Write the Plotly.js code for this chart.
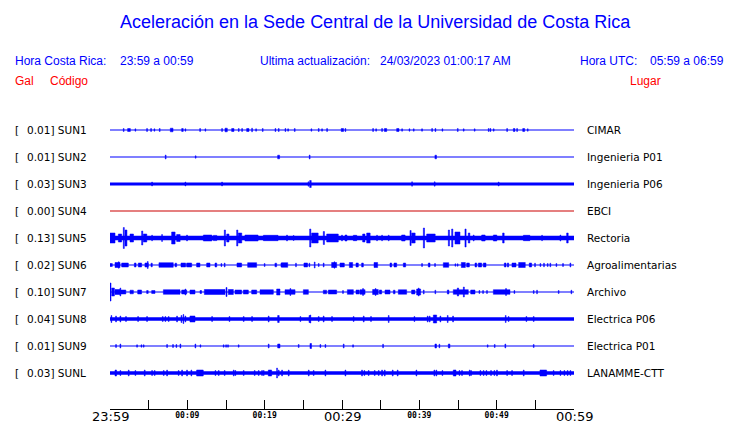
<!DOCTYPE html>
<html>
<head>
<meta charset="utf-8">
<script src="https://cdn.plot.ly/plotly-3.0.1.min.js"></script>
<style>html,body{margin:0;padding:0;background:#fff}#chart{width:740px;height:423px}</style>
</head>
<body>
<div id="chart"></div>
<script>
// ---------------- DATA ----------------
const stationCodes = ['SUN1','SUN2','SUN3','SUN4','SUN5','SUN6','SUN7','SUN8','SUN9','SUNL'];
const stationPlaces = ['CIMAR','Ingenieria P01','Ingenieria P06','EBCI','Rectoria','Agroalimentarias','Archivo','Electrica P06','Electrica P01','LANAMME-CTT'];
const peakGal = ['0.01','0.01','0.03','0.00','0.13','0.02','0.10','0.04','0.01','0.03'];
// background noise half-amplitude (display units) of each trace
const noiseLevel = [0, 0, 1.4, 0, 2.3, 0, 0, 1.8, 0, 1.8];
// minutes after 23:59
const timeTickVals = [0,5,10,15,20,25,30,35,40,45,50,55,60];
const majorTickVals = [0,30,60];
const majorTickText = ['23:59','00:29','00:59'];
const minorTickVals = [10,20,40,50];
const minorTickText = ['00:09','00:19','00:39','00:49'];

// bursts: [start minute, duration minutes, half amplitude]
const sun1Bursts = [[1.72,0.1,1.5],[2.28,0.35,1.5],[3.23,0.1,1.2],[4.74,0.1,1.5],[5.26,0.1,1.5],[5.69,0.1,1.2],[6.38,0.1,1.5],[7.80,0.35,1.8],[9.27,0.2,1.5],[9.70,0.1,1.2],[11.60,0.1,1.5],[12.28,0.1,1.2],[14.44,0.1,1.5],[14.87,0.3,1.8],[15.73,0.3,1.5],[16.60,0.1,1.5],[17.03,0.1,1.5],[17.67,0.3,1.5],[18.32,0.1,1.8],[18.84,0.1,1.2],[19.70,0.1,1.5],[21.34,0.1,1.5],[21.77,0.1,1.5],[22.63,0.1,1.5],[22.98,0.1,1.2],[23.84,0.1,1.5],[25.99,0.1,1.2],[26.94,0.1,1.5],[27.37,0.1,1.2],[28.02,0.1,1.5],[29.90,0.3,1.5],[30.39,0.1,1.5],[33.97,0.1,1.5],[34.36,0.1,1.2],[35.13,0.1,1.5],[35.48,0.3,1.5],[37.07,0.3,1.5],[37.72,0.1,1.2],[38.67,0.1,1.2],[39.23,0.1,1.2],[40.30,0.1,1.2],[41.60,0.1,1.5],[42.03,0.1,1.5],[42.93,0.1,1.2],[44.92,0.1,1.5],[45.69,0.1,1.2],[47.11,0.1,1.2],[48.92,0.1,1.5],[49.14,0.1,1.5],[49.57,0.1,1.2],[51.30,0.1,1.5],[52.16,0.2,1.5],[52.59,0.1,1.5],[53.37,0.25,1.5],[53.97,0.1,1.2]];
const sun2Bursts = [[7.15,0.1,2],[11.03,0.1,1.2],[21.68,0.25,1.8],[25.77,0.1,2],[42.02,0.2,1.8]];
const sun3Bursts = [[5.39,0.1,2],[9.70,0.1,2],[14.44,0.1,2],[25.6,0.1,2.2],[25.82,0.2,3.5],[39.01,0.1,2.2],[41.94,0.1,2.2],[50.21,0.1,2]];
const sun4Bursts = [];
const sun5Bursts = [[0.0,0.65,5],[1.08,0.43,4],[1.72,0.13,10.5],[1.94,0.25,8],[2.59,0.45,4],[4.09,0.15,7],[4.31,0.45,4],[5.39,0.1,2.8],[6.68,0.1,3.5],[7.97,0.45,6],[8.62,0.45,3.5],[9.91,0.1,3],[12.07,1.1,3],[13.36,0.45,2.6],[14.78,0.15,8],[15.09,0.3,4],[16.38,0.15,8],[16.59,0.45,5],[17.45,1.7,3],[19.83,1.9,2.7],[22.84,0.1,3],[23.7,0.1,2.5],[25.82,0.15,9],[26.07,0.85,5],[27.58,0.15,6.5],[28.02,1.5,4],[29.95,0.1,3],[30.39,0.25,3],[31.46,0.45,2.7],[32.67,0.3,4],[33.19,0.45,5],[34.48,0.1,2.8],[35.13,0.1,2.8],[35.99,0.1,2.8],[37.71,0.45,3],[38.79,0.15,7.5],[39.01,0.45,5],[40.52,0.15,10],[40.95,1.1,4],[43.75,0.15,8],[44.18,0.15,9],[44.61,0.65,6],[45.9,0.15,9],[46.33,0.2,5],[46.98,0.1,3],[48.06,0.45,3],[49.57,0.45,3],[50.77,0.2,5],[53.45,0.85,2.7],[55.82,0.1,2.7],[58.19,0.1,3],[59.05,0.2,5]];
const sun6Bursts = [[0.0,0.3,1.5],[0.65,0.65,2.5],[1.08,0.1,3.2],[1.51,0.86,2],[3.15,0.22,2],[3.66,0.43,2],[4.52,0.43,2],[4.83,0.1,3.5],[5.3,0.17,1.8],[6.33,1.85,2.3],[8.4,0.22,1.8],[9.18,0.6,2],[9.91,0.65,2],[11.2,0.43,2],[12.5,0.43,2],[13.58,0.22,2],[14.35,0.1,1.5],[14.78,0.1,2],[16.42,0.6,2],[17.8,1.16,2.3],[19.95,0.1,1.5],[21.33,0.22,1.8],[22.11,0.1,2],[22.2,0.78,2.3],[24.0,0.1,1.8],[25.08,0.47,2],[25.73,0.1,1.8],[26.42,0.1,3],[26.94,0.1,1.5],[27.58,0.1,2],[28.66,0.65,2.5],[28.97,0.1,3.2],[29.74,0.56,2],[30.95,0.43,2.5],[31.81,0.3,2],[32.54,0.22,2],[34.14,0.47,2.5],[36.21,0.22,2],[36.72,0.35,2],[37.93,0.3,2],[40.3,0.1,1.5],[41.16,0.22,2],[41.98,0.1,1.5],[43.1,0.7,2.3],[44.61,0.1,1.2],[44.91,0.1,1.2],[45.43,0.52,2.5],[46.12,0.35,2],[47.2,0.22,2],[47.63,0.43,2],[48.27,0.35,2],[50.99,0.22,2],[51.38,0.17,2],[51.98,0.52,2],[52.84,0.86,2.5],[54.22,0.3,2],[54.91,0.1,1.8],[55.6,0.1,1.5],[56.07,0.1,1.8],[56.55,0.1,1.5],[56.89,0.1,1.8],[57.67,0.1,1.5],[58.53,0.1,1.5],[59.48,0.1,2]];
const sun7Bursts = [[0.0,0.13,9],[0.22,0.35,4],[0.65,0.65,2.5],[1.29,0.1,4],[1.4,0.65,2],[2.59,0.43,1.8],[3.58,0.5,2],[4.74,0.2,1.5],[5.39,0.43,1.5],[6.9,2.15,2.3],[9.27,0.65,2],[9.7,0.1,3],[10.34,0.65,2],[11.64,0.2,1.5],[12.2,2.67,2.5],[15.0,0.13,4.5],[15.3,0.65,2.5],[16.16,0.86,2],[17.24,0.65,2],[18.32,0.65,2],[19.4,1.72,2.2],[21.55,0.43,3],[22.63,1.3,2.3],[23.27,0.1,3.5],[25.0,0.65,2.3],[27.58,0.43,1.8],[28.23,1.08,2],[30.08,0.1,1.5],[30.69,0.78,2.3],[31.81,0.43,2],[32.33,0.65,2.3],[32.67,0.1,3.5],[33.96,0.73,2.5],[34.3,0.1,3.5],[34.83,0.3,2],[35.56,0.65,2],[36.64,0.22,1.8],[37.28,1.08,2.2],[39.0,0.43,2],[39.65,0.52,3],[39.87,0.1,4],[40.52,0.1,2],[42.02,0.1,1.8],[43.62,0.2,2],[44.39,1.94,2.3],[44.91,0.17,4],[45.69,0.13,5],[46.64,0.56,2],[47.71,0.1,1.5],[48.19,0.1,1.5],[48.7,0.1,1.5],[49.57,2.15,2.3],[51.16,0.1,3.5],[52.24,0.1,1.5],[54.74,0.1,1.5],[55.17,0.1,1.8],[57.97,0.1,1.5],[59.61,0.1,1.8]];
const sun8Bursts = [[0.13,0.1,3.5],[0.73,0.1,3],[1.29,0.1,3],[2.02,0.1,2.5],[3.58,0.1,2.5],[4.74,0.1,2.5],[6.77,0.1,2.5],[7.11,0.1,2.5],[7.54,0.1,2.5],[8.62,0.1,3],[9.18,0.1,3.5],[9.44,0.1,4.5],[9.7,0.1,3],[10.34,0.65,3],[13.15,0.1,2.5],[15.4,0.1,2.5],[17.24,0.1,2.5],[18.32,0.1,2.5],[20.47,0.1,3],[21.68,0.2,3.5],[24.57,0.1,2.5],[25.73,0.1,3.5],[25.86,0.1,4],[26.94,0.1,2.5],[27.58,0.1,3],[28.66,0.1,2.5],[31.46,0.1,2.5],[32.76,0.1,3],[33.7,0.1,2.5],[35.99,0.1,3.5],[39.31,0.1,2.5],[41.03,0.1,3],[41.29,0.1,3],[41.81,0.43,4],[42.67,0.1,3],[43.62,0.1,3.5],[44.31,0.1,3],[51.12,0.1,3.5],[51.5,0.1,2.5],[53.79,0.1,2.5],[54.74,0.1,2.5]];
const sun9Bursts = [[0.73,0.1,1.5],[1.29,0.1,2],[3.45,0.1,1.2],[4.01,0.1,1.2],[4.31,0.1,1.2],[7.33,0.1,1.5],[8.1,0.1,1.5],[8.53,0.1,1.5],[9.05,0.1,2],[10.99,0.1,2],[11.64,0.1,1.2],[14.65,0.1,1.2],[14.96,0.1,1.2],[15.21,0.1,1.2],[16.59,0.1,1.2],[20.47,0.1,2],[21.68,0.3,2],[24.35,0.1,1.5],[25.86,0.2,2.5],[27.15,0.1,1.5],[27.8,0.1,1.5],[30.17,0.1,2],[31.38,0.1,1.2],[35.26,0.1,1.8],[42.02,0.2,2],[42.54,0.1,1.8],[43.75,0.2,2],[48.79,0.1,1.2],[49.7,0.1,1.5],[51.07,0.1,2],[54.74,0.1,1.5]];
const sunLBursts = [[0.65,0.2,3],[1.29,0.1,2.5],[2.37,0.1,3],[3.23,0.1,2.5],[4.44,0.1,3],[5.39,0.1,2.5],[5.73,0.1,2.5],[6.9,0.1,2.5],[7.33,0.1,3],[8.83,0.1,2.5],[9.27,0.1,3],[9.91,0.1,3],[10.47,0.1,3],[11.2,0.86,3],[13.58,0.1,2.5],[14.01,0.1,2.5],[14.78,0.1,2.5],[15.95,0.1,3],[16.16,0.1,2.5],[17.24,0.1,2.5],[18.66,0.1,2.5],[19.18,0.1,2.5],[19.61,0.1,2.5],[19.83,0.1,2.5],[20.47,0.43,3],[21.55,0.1,5],[21.77,0.1,3],[22.2,0.1,3],[23.06,0.1,3],[25.65,0.1,3],[26.29,0.1,2.5],[27.8,0.1,3],[30.39,0.1,3],[32.54,0.1,3],[32.84,0.1,2.5],[33.4,0.1,2.5],[34.18,0.1,2.5],[34.7,0.1,2.5],[35.13,0.1,3],[35.48,0.1,3],[36.51,0.1,3],[37.15,0.1,3],[39.57,0.1,3],[41.89,0.1,3],[42.15,0.1,3],[42.93,0.1,2.5],[44.39,0.35,3],[45.13,0.1,2.5],[45.47,0.1,2.5],[46.46,0.1,3],[46.64,0.1,2.5],[47.84,0.1,2.5],[48.27,0.1,2.5],[48.62,0.1,2.5],[49.22,0.1,2.5],[49.65,0.1,2.5],[49.99,0.1,3],[51.3,0.1,2.5],[51.94,0.1,2.5],[53.45,0.1,3],[55.6,0.86,3],[57.32,0.1,2.5],[58.19,0.1,2.5],[58.7,0.1,2.5],[59.13,0.1,2.5],[59.48,0.1,2.5]];
const allBursts = [sun1Bursts,sun2Bursts,sun3Bursts,sun4Bursts,sun5Bursts,sun6Bursts,sun7Bursts,sun8Bursts,sun9Bursts,sunLBursts];

// ---------------- LAYOUT HELPERS ----------------
const W = 740, H = 423;
const PLOT_L = 110, PLOT_R = 574, PLOT_T = 110, PLOT_B = 409;
const ROW0 = 130, ROW_GAP = 27;
const BLUE = '#0000ff';
const traceColors = stationCodes.map(c => c === 'SUN4' ? '#cc0000' : BLUE);
const rowY = i => -ROW_GAP * i;
const px = x => x / W;
const py = y => 1 - y / H;

const traces = [];
stationCodes.forEach((code, i) => {
  const c = rowY(i);
  const col = traceColors[i];
  // baseline
  traces.push({x:[0,60], y:[c,c], mode:'lines', line:{color:col, width:1.2}, hoverinfo:'skip'});
  // noise band
  if (noiseLevel[i] > 0) {
    const n = noiseLevel[i];
    traces.push({x:[0,60,60,0,0], y:[c-n,c-n,c+n,c+n,c-n], mode:'lines', fill:'toself',
      fillcolor:col, line:{color:col, width:0}, hoverinfo:'skip'});
  }
  // bursts
  const bx = [], by = [];
  allBursts[i].forEach(([t,d,a]) => {
    const t2 = Math.min(t + d, 60);
    bx.push(t, t2, t2, t, t, null);
    by.push(c-a, c-a, c+a, c+a, c-a, null);
  });
  if (bx.length) {
    traces.push({x:bx, y:by, mode:'lines', fill:'toself', fillcolor:col,
      line:{color:col, width:0.5}, connectgaps:false, hoverinfo:'skip'});
  }
});
// carrier for secondary (minor label) axis
traces.push({x:[], y:[], xaxis:'x2', yaxis:'y', mode:'lines', hoverinfo:'skip'});

const annotations = [];
const txt = (text, x, y, size, color, family, anchor) => annotations.push({
  text, x: px(x), y: py(y), xref:'paper', yref:'paper', showarrow:false,
  xanchor: anchor || 'left', yanchor:'middle', borderpad:0, borderwidth:0,
  font:{size, color, family: family || 'Liberation Sans, Arial, sans-serif'}
});
txt('Aceleración en la Sede Central de la Universidad de Costa Rica', 375, 22, 18, BLUE, null, 'center');
txt('Hora Costa Rica:', 15, 61, 12, BLUE);
txt('23:59 a 00:59', 120, 61, 12, BLUE);
txt('Ultima actualización:', 260, 61, 12, BLUE);
txt('24/03/2023 01:00:17 AM', 380, 61, 12, BLUE);
txt('Hora UTC:', 580, 61, 12, BLUE);
txt('05:59 a 06:59', 650, 61, 12, BLUE);
txt('Gal', 15, 81, 12, '#ff0000');
txt('Código', 50, 81, 12, '#ff0000');
txt('Lugar', 630, 81, 12, '#ff0000');

stationCodes.forEach((code, i) => {
  const common = {xref:'paper', yref:'y', y: rowY(i), showarrow:false, xanchor:'left', yanchor:'middle',
    borderpad:0, borderwidth:0,
    font:{size:10.5, color:'#000', family:'DejaVu Sans, sans-serif'}};
  annotations.push(Object.assign({}, common, {text:'[', x: px(15)}));
  annotations.push(Object.assign({}, common, {text: peakGal[i] + '] ' + code, x: px(27)}));
  annotations.push(Object.assign({}, common, {text: stationPlaces[i], x: px(587)}));
});
// major time labels, placed on the time scale
majorTickVals.forEach((v, k) => annotations.push({
  text: majorTickText[k], x: v, xref:'x', y: py(416), yref:'paper', showarrow:false,
  xanchor:'center', yanchor:'middle', borderpad:0, borderwidth:0,
  font:{size:13, color:'#000', family:'DejaVu Sans, sans-serif'}
}));

const layout = {
  width: W, height: H,
  margin: {l:0, r:0, t:0, b:0, pad:0},
  paper_bgcolor:'#fff', plot_bgcolor:'#fff',
  showlegend:false, hovermode:false,
  xaxis: {domain:[px(PLOT_L), px(PLOT_R)], range:[0,60], showgrid:false, zeroline:false,
    showline:true, linecolor:'#000', linewidth:1, ticks:'inside', ticklen:9, tickwidth:1, tickcolor:'#000',
    tickmode:'array', tickvals: timeTickVals, showticklabels:false, fixedrange:true},
  xaxis2: {overlaying:'x', anchor:'y', side:'bottom', domain:[px(PLOT_L), px(PLOT_R)], range:[0,60],
    showgrid:false, zeroline:false, showline:false, ticks:'', tickmode:'array',
    tickvals: minorTickVals, ticktext: minorTickText,
    tickfont:{family:'DejaVu Sans Mono, monospace', size:8, color:'#000', weight:'bold'}, fixedrange:true},
  yaxis: {domain:[py(PLOT_B), py(PLOT_T)], range:[-(PLOT_B-ROW0), ROW0-PLOT_T], showgrid:false,
    zeroline:false, showline:false, showticklabels:false, ticks:'', fixedrange:true},
  annotations
};

Plotly.newPlot('chart', traces, layout, {staticPlot:true, displayModeBar:false});
</script>
</body>
</html>
